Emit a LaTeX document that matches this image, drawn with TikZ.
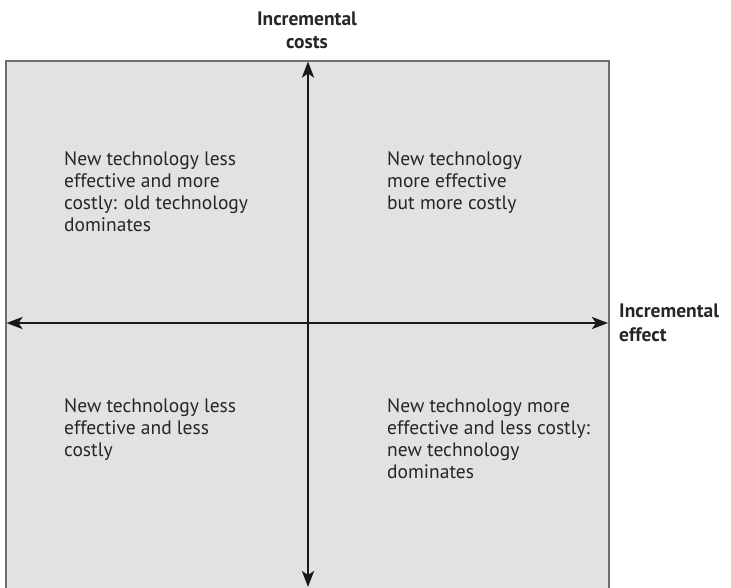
\documentclass[tikz,border=0pt]{standalone}
\usepackage{fontspec}
\setmainfont{PT Sans}
\usetikzlibrary{arrows.meta}
\definecolor{boxgray}{HTML}{E1E2E4}
\definecolor{bordergray}{HTML}{6E6E6E}
\definecolor{txt}{HTML}{262626}
\tikzset{
  quad/.style={anchor=north west, inner sep=0pt, align=left, text=txt, font=\fontsize{19.5}{22}\selectfont},
  axlabel/.style={inner sep=0pt, text=txt, font=\bfseries\fontsize{19.5}{23.5}\selectfont},
  axis/.style={line width=2.6pt, draw=black!90, {Stealth[length=16pt,width=12pt,inset=4pt]}-{Stealth[length=16pt,width=12pt,inset=4pt]}}
}
\begin{document}
\begin{tikzpicture}[x=1pt,y=-1pt]
\useasboundingbox (0,0) rectangle (731,587);
\draw[fill=boxgray, draw=bordergray, line width=1.3pt] (6,61) rectangle (609,600);
\coordinate (top) at (308,61.5);
\coordinate (bot) at (308,587);
\coordinate (lft) at (6.5,323);
\coordinate (rgt) at (608,323);
\draw[axis] (top) -- (bot);
\draw[axis] (lft) -- (rgt);
\node[axlabel, align=center, anchor=south] (yl) at (307,49) {Incremental\\costs};
\node[axlabel, align=left, anchor=west] (xl) at (619,323) {Incremental\\effect};
\node[quad] (tl) at (64,151) {New technology less\\effective and more\\costly: old technology\\dominates};
\node[quad] (tr) at (387,151) {New technology\\more effective\\but more costly};
\node[quad] (bl) at (64,398) {New technology less\\effective and less\\costly};
\node[quad] (br) at (387,398) {New technology more\\effective and less costly:\\new technology\\dominates};
\end{tikzpicture}
\end{document}
